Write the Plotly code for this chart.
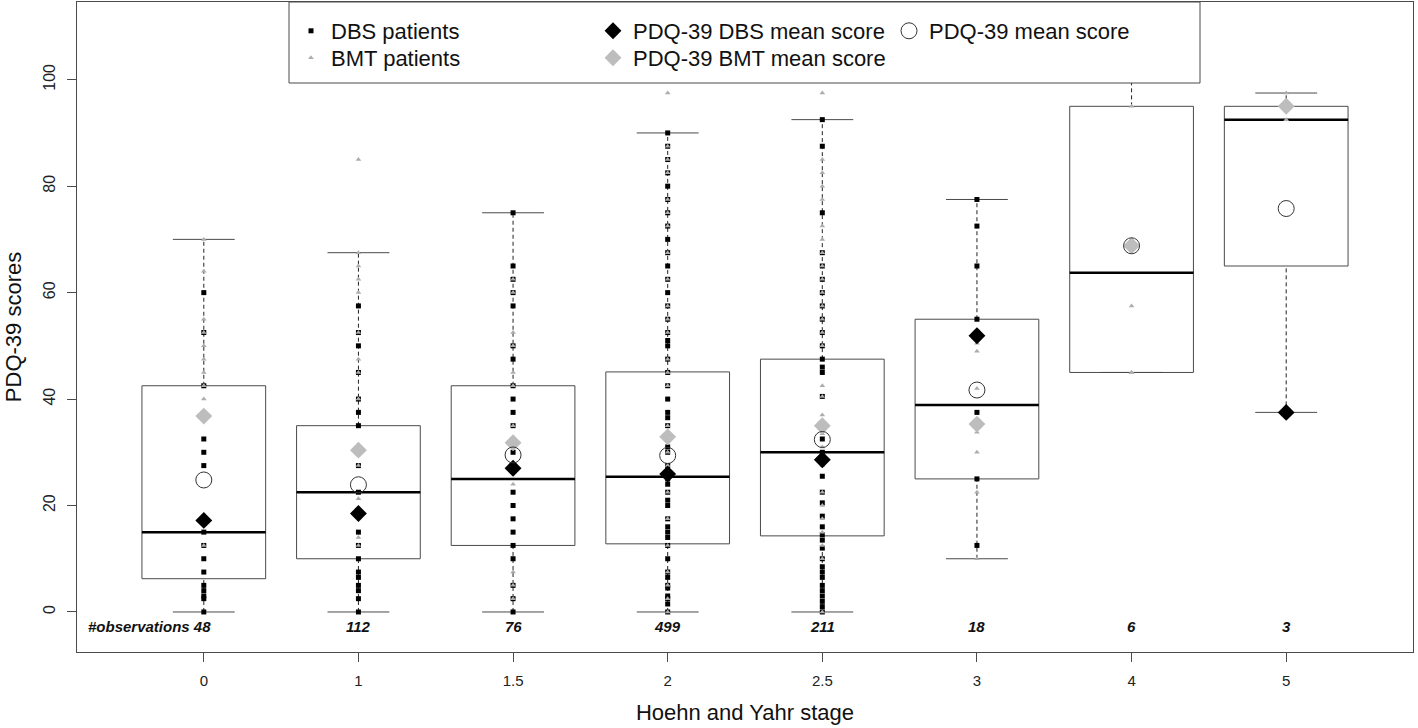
import plotly.graph_objects as go

# ---------------- data ----------------
stages = ["0", "1", "1.5", "2", "2.5", "3", "4", "5"]
n_obs = [48, 112, 76, 499, 211, 18, 6, 3]

q1 = [6.25, 10.0, 12.5, 12.8, 14.3, 25.0, 45.0, 65.0]
median = [15.0, 22.5, 25.0, 25.4, 30.0, 38.9, 63.75, 92.5]
q3 = [42.5, 35.0, 42.5, 45.1, 47.5, 55.0, 95.0, 95.0]
whisker_low = [0.0, 0.0, 0.0, 0.0, 0.0, 10.0, 45.0, 37.5]
whisker_high = [70.0, 67.5, 75.0, 90.0, 92.5, 77.5, 100.0, 97.5]

mean_dbs = [17.2, 18.5, 27.0, 25.9, 28.6, 51.9, None, 37.5]
mean_bmt = [36.8, 30.4, 31.8, 32.9, 35.0, 35.3, 68.8, 95.0]
mean_all = [24.8, 23.9, 29.5, 29.4, 32.4, 41.7, 68.8, 75.8]

dbs_0 = [60, 52.5, 42.5, 32.5, 30, 27.5, 15, 12.5, 10, 7.5, 5, 4, 3, 2.5, 0]
dbs_1 = [57.5, 52.5, 50, 45, 40, 37.5, 35, 27.5, 22.5, 15, 12.5, 10, 7.5, 6.5, 5, 4, 2.5, 0]
dbs_15 = [75, 65, 62.5, 60, 57.5, 50, 47.5, 42.5, 40, 37.5, 35, 30, 22.5, 20, 17.5, 15, 12.5, 10, 5, 2.5, 0]
dbs_2 = [90, 87.5, 85, 82.5, 80, 77.5, 75, 72.5, 70, 67.5, 65, 62.5, 60, 57.5, 55, 52.5, 51, 50,
         47.5, 45, 42.5, 40, 37.5, 36.5, 35, 31, 30, 27.5, 25, 24, 22.5, 21, 20, 17.5, 16, 15, 14,
         12.5, 10, 7.5, 6.5, 5, 4.5, 3, 2.5, 1.5, 0]
dbs_25 = [92.5, 87.5, 75, 67.5, 65, 62.5, 60, 57.5, 55, 52.5, 50, 47.5, 46, 45, 40.5, 32.5, 30, 28,
          25.5, 22.5, 20.5, 18, 16, 14.5, 13.5, 12, 10, 8.5, 7.5, 6.5, 5, 4, 3, 2, 1, 0]
dbs_3 = [77.5, 72.5, 65, 55, 37.5, 25, 12.5]
dbs_4 = []
dbs_5 = [37.5]

bmt_0 = [70, 64, 55, 52.5, 50, 47.5, 45, 42.5, 40, 12.5]
bmt_1 = [85, 67.5, 65, 62.5, 60, 52.5, 47.5, 45, 40, 30, 27.5, 21.25, 14, 12.5]
bmt_15 = [62.5, 60, 52.5, 50, 45, 42.5, 35, 24, 7.5, 5, 2.5]
bmt_2 = [97.5, 87.5, 85, 82.5, 77.5, 75, 72.5, 67.5, 62.5, 57.5, 55, 52.5, 47.5, 45, 42.5, 35,
         32.5, 30, 27.5, 22.5, 17.5, 12.5, 7.5, 5, 2.5, 0]
bmt_25 = [97.5, 85, 82.5, 80, 77.5, 72.5, 70, 67.5, 65, 62.5, 60, 57.5, 55, 52.5, 50, 42.5, 40.5,
          37, 33.5, 31, 27.5, 22.5, 20, 17.5, 15, 12.5, 10, 0]
bmt_3 = [50.5, 49, 42, 33.75, 30, 22.5, 10]
bmt_4 = [45, 45, 57.5, 70, 95, 100]
bmt_5 = [92.5, 97.5]

dbs_points = [dbs_0, dbs_1, dbs_15, dbs_2, dbs_25, dbs_3, dbs_4, dbs_5]
bmt_points = [bmt_0, bmt_1, bmt_15, bmt_2, bmt_25, bmt_3, bmt_4, bmt_5]

# ---------------- styling ----------------
FONT = "Liberation Sans, Arial, sans-serif"
LINE = "#4a4a4a"
BOX_HALF = 0.4
CAP_HALF = 0.2

pos = list(range(1, len(stages) + 1))

fig = go.Figure()

# boxes (whiskers drawn separately so they can be dashed)
fig.add_trace(go.Box(
    x=pos, q1=q1, median=median, q3=q3, lowerfence=q1, upperfence=q3,
    width=2 * BOX_HALF, whiskerwidth=0, fillcolor="white",
    line=dict(color=LINE, width=1), boxpoints=False,
    hoverinfo="skip", showlegend=False,
))

# dashed whiskers
wx, wy = [], []
for p, lo, a, b, hi in zip(pos, whisker_low, q1, q3, whisker_high):
    wx += [p, p, None, p, p, None]
    wy += [lo, a, None, b, hi, None]
fig.add_trace(go.Scatter(x=wx, y=wy, mode="lines",
                         line=dict(color="#222222", width=1, dash="4px,3px"),
                         hoverinfo="skip", showlegend=False))

# staples
cx, cy = [], []
for p, lo, hi in zip(pos, whisker_low, whisker_high):
    cx += [p - CAP_HALF, p + CAP_HALF, None, p - CAP_HALF, p + CAP_HALF, None]
    cy += [lo, lo, None, hi, hi, None]
fig.add_trace(go.Scatter(x=cx, y=cy, mode="lines",
                         line=dict(color=LINE, width=1),
                         hoverinfo="skip", showlegend=False))

# thick medians
mx, my = [], []
for p, m in zip(pos, median):
    mx += [p - BOX_HALF, p + BOX_HALF, None]
    my += [m, m, None]
fig.add_trace(go.Scatter(x=mx, y=my, mode="lines",
                         line=dict(color="black", width=2.5),
                         hoverinfo="skip", showlegend=False))

# individual patients
dx, dy = [], []
for p, vals in zip(pos, dbs_points):
    dx += [p] * len(vals)
    dy += vals
fig.add_trace(go.Scatter(x=dx, y=dy, mode="markers", name="DBS patients",
                         marker=dict(symbol="square", size=5, color="black"),
                         legend="legend"))

bx, by = [], []
for p, vals in zip(pos, bmt_points):
    bx += [p] * len(vals)
    by += vals
fig.add_trace(go.Scatter(x=bx, y=by, mode="markers", name="BMT patients",
                         marker=dict(symbol="triangle-up", size=5, color="#adadad"),
                         legend="legend2"))

# means
fig.add_trace(go.Scatter(x=pos, y=mean_dbs, mode="markers", name="PDQ-39 DBS mean score",
                         marker=dict(symbol="diamond", size=13, color="black"),
                         legend="legend3"))
fig.add_trace(go.Scatter(x=pos, y=mean_bmt, mode="markers", name="PDQ-39 BMT mean score",
                         marker=dict(symbol="diamond", size=13, color="#bdbdbd"),
                         legend="legend4"))
fig.add_trace(go.Scatter(x=pos, y=mean_all, mode="markers", name="PDQ-39 mean score",
                         marker=dict(symbol="circle-open", size=16,
                                     color="#333333", line=dict(width=1)),
                         legend="legend5"))

# observation counts
for i, (p, n) in enumerate(zip(pos, n_obs)):
    if i == 0:
        fig.add_annotation(x=p, y=-2.8, text=f"<b><i>#observations {n}</i></b>",
                           xanchor="right", xshift=9, showarrow=False,
                           font=dict(family=FONT, size=15, color="#111"))
    else:
        fig.add_annotation(x=p, y=-2.8, text=f"<b><i>{n}</i></b>",
                           showarrow=False,
                           font=dict(family=FONT, size=15, color="#111"))

W, H = 1418, 728
L, R, T, B = 77, 5, 2, 76
pw, ph = W - L - R, H - T - B


def px(xp):
    return (xp - L) / pw


def py(yp):
    return (H - B - yp) / ph


leg_common = dict(font=dict(family=FONT, size=22, color="#111"),
                  bgcolor="rgba(0,0,0,0)", borderwidth=0,
                  xanchor="left", yanchor="middle", itemwidth=30)

fig.update_layout(
    width=W, height=H,
    margin=dict(l=L, r=R, t=T, b=B, pad=0),
    paper_bgcolor="white", plot_bgcolor="white",
    font=dict(family=FONT, color="#222"),
    legend=dict(x=px(291), y=py(31), **leg_common),
    legend2=dict(x=px(291), y=py(58), **leg_common),
    legend3=dict(x=px(593), y=py(31), **leg_common),
    legend4=dict(x=px(593), y=py(58), **leg_common),
    legend5=dict(x=px(889), y=py(31), **leg_common),
    shapes=[dict(type="rect", xref="paper", yref="paper",
                 x0=px(289), x1=px(1200), y0=py(83), y1=1.0,
                 fillcolor="white", line=dict(color=LINE, width=1), layer="above")],
    xaxis=dict(range=[0.18, 8.82], tickvals=pos, ticktext=stages,
               showgrid=False, zeroline=False, showline=True, mirror=True,
               linecolor=LINE, linewidth=1, ticks="outside", ticklen=9,
               tickcolor=LINE, tickfont=dict(family=FONT, size=15, color="#222"),
               ticklabelstandoff=6,
               title=dict(text="Hoehn and Yahr stage", standoff=16,
                          font=dict(family=FONT, size=22, color="#111"))),
    yaxis=dict(range=[-7.52, 114.6], tickvals=[0, 20, 40, 60, 80, 100],
               showgrid=False, zeroline=False, showline=True, mirror=True,
               linecolor=LINE, linewidth=1, ticks="outside", ticklen=9,
               tickcolor=LINE, tickangle=-90,
               tickfont=dict(family=FONT, size=16, color="#222"),
               ticklabelstandoff=6,
               title=dict(text="PDQ-39 scores", standoff=12,
                          font=dict(family=FONT, size=22, color="#111"))),
)

fig.write_html("out.html", config={"displayModeBar": False},
               post_script="document.body.style.margin='0';")
